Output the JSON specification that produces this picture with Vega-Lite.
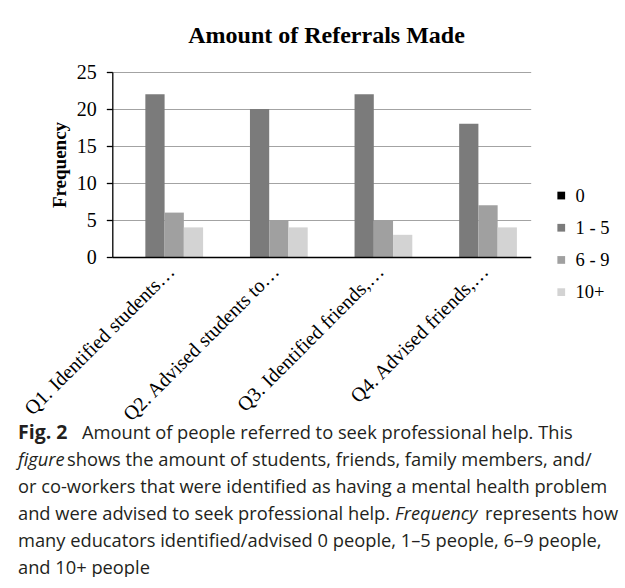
{
  "$schema": "https://vega.github.io/schema/vega-lite/v6.json",
  "background": "white",
  "padding": {"left": 18, "top": 23, "right": 0, "bottom": 0},
  "autosize": {"type": "pad"},
  "bounds": "flush",
  "center": true,
  "spacing": 181.5,
  "config": {"view": {"stroke": null}, "font": "Liberation Serif"},
  "datasets": {
    "bars": [
      {"question": "Q1. Identified students…", "referrals": "0", "frequency": 0},
      {"question": "Q1. Identified students…", "referrals": "1 - 5", "frequency": 22},
      {"question": "Q1. Identified students…", "referrals": "6 - 9", "frequency": 6},
      {"question": "Q1. Identified students…", "referrals": "10+", "frequency": 4},
      {"question": "Q2. Advised students to…", "referrals": "0", "frequency": 0},
      {"question": "Q2. Advised students to…", "referrals": "1 - 5", "frequency": 20},
      {"question": "Q2. Advised students to…", "referrals": "6 - 9", "frequency": 5},
      {"question": "Q2. Advised students to…", "referrals": "10+", "frequency": 4},
      {"question": "Q3. Identified friends,…", "referrals": "0", "frequency": 0},
      {"question": "Q3. Identified friends,…", "referrals": "1 - 5", "frequency": 22},
      {"question": "Q3. Identified friends,…", "referrals": "6 - 9", "frequency": 5},
      {"question": "Q3. Identified friends,…", "referrals": "10+", "frequency": 3},
      {"question": "Q4. Advised friends,…", "referrals": "0", "frequency": 0},
      {"question": "Q4. Advised friends,…", "referrals": "1 - 5", "frequency": 18},
      {"question": "Q4. Advised friends,…", "referrals": "6 - 9", "frequency": 7},
      {"question": "Q4. Advised friends,…", "referrals": "10+", "frequency": 4}
    ],
    "caption": [
      {"line": 1, "part": "label", "text": "Fig. 2"},
      {"line": 1, "part": "afterLabel", "text": "Amount of people referred to seek professional help. This"},
      {"line": 2, "part": "emphLead", "text": "figure"},
      {"line": 2, "part": "afterEmphLead", "text": "shows the amount of students, friends, family members, and/"},
      {"line": 3, "part": "text", "text": "or co-workers that were identified as having a mental health problem"},
      {"line": 4, "part": "text", "text": "and were advised to seek professional help."},
      {"line": 4, "part": "emph", "text": "Frequency"},
      {"line": 4, "part": "afterEmph", "text": "represents how"},
      {"line": 5, "part": "text", "text": "many educators identified/advised 0 people, 1–5 people, 6–9 people,"},
      {"line": 6, "part": "text", "text": "and 10+ people"}
    ]
  },
  "vconcat": [
    {
      "width": 418.4,
      "height": 185,
      "title": {
        "text": "Amount of Referrals Made",
        "font": "Liberation Serif",
        "fontSize": 24,
        "fontWeight": "bold",
        "color": "black",
        "anchor": "middle",
        "frame": "group",
        "baseline": "alphabetic",
        "offset": -4.6,
        "dx": 5
      },
      "data": {"name": "bars"},
      "mark": {"type": "bar"},
      "encoding": {
        "x": {
          "field": "question",
          "type": "nominal",
          "sort": null,
          "scale": {"paddingInner": 0.264, "paddingOuter": 0.132},
          "axis": {
            "title": null,
            "labelAngle": -45,
            "labelFont": "Liberation Serif",
            "labelFontSize": 20,
            "labelColor": "black",
            "labelPadding": 4,
            "labelLimit": 0,
            "ticks": false,
            "domainColor": "black",
            "domainWidth": 1.3,
            "grid": false,
            "zindex": 1
          }
        },
        "xOffset": {
          "field": "referrals",
          "type": "nominal",
          "sort": ["0", "1 - 5", "6 - 9", "10+"],
          "scale": {"paddingInner": 0, "paddingOuter": 0}
        },
        "y": {
          "field": "frequency",
          "type": "quantitative",
          "scale": {"domain": [0, 25]},
          "axis": {
            "values": [0, 5, 10, 15, 20, 25],
            "title": "Frequency",
            "titleFont": "Liberation Serif",
            "titleFontSize": 19,
            "titleFontWeight": "bold",
            "titleColor": "black",
            "titlePadding": 7,
            "labelFont": "Liberation Serif",
            "labelFontSize": 20,
            "labelColor": "black",
            "labelPadding": 10,
            "domainColor": "black",
            "domainWidth": 1.3,
            "tickColor": "black",
            "tickSize": 6,
            "tickWidth": 1.3,
            "grid": true,
            "gridColor": "#a3a3a3",
            "gridWidth": 1
          }
        },
        "color": {
          "field": "referrals",
          "type": "nominal",
          "scale": {
            "domain": ["0", "1 - 5", "6 - 9", "10+"],
            "range": ["#000000", "#7b7b7b", "#a0a0a0", "#d3d3d3"]
          },
          "legend": {
            "orient": "none",
            "legendX": 534,
            "legendY": 114.3,
            "title": null,
            "padding": 0,
            "symbolType": "square",
            "symbolSize": 60,
            "symbolStrokeWidth": 0,
            "labelFont": "Liberation Serif",
            "labelFontSize": 18.5,
            "labelColor": "black",
            "labelOffset": 5,
            "rowPadding": 13.2
          }
        }
      }
    },
    {
      "width": 607,
      "height": 135,
      "data": {"name": "caption"},
      "encoding": {
        "y": {"field": "line", "type": "ordinal", "scale": {"type": "point", "padding": 0}, "axis": null},
        "x": {"datum": 0, "type": "quantitative", "scale": {"domain": [0, 1]}, "axis": null},
        "text": {"field": "text"}
      },
      "layer": [
        {
          "transform": [{"filter": "datum.part === 'text'"}],
          "mark": {"type": "text", "align": "left", "baseline": "alphabetic", "font": "Open Sans", "fontSize": 18.3, "color": "#231f20"}
        },
        {
          "transform": [{"filter": "datum.part === 'label'"}],
          "mark": {"type": "text", "align": "left", "baseline": "alphabetic", "font": "Open Sans", "fontSize": 19.5, "fontWeight": "bold", "color": "#231f20"}
        },
        {
          "transform": [{"filter": "datum.part === 'afterLabel'"}],
          "mark": {"type": "text", "align": "left", "baseline": "alphabetic", "font": "Open Sans", "fontSize": 18.3, "color": "#231f20", "dx": 64}
        },
        {
          "transform": [{"filter": "datum.part === 'emphLead'"}],
          "mark": {"type": "text", "align": "left", "baseline": "alphabetic", "font": "Open Sans", "fontSize": 18.3, "fontStyle": "italic", "color": "#231f20"}
        },
        {
          "transform": [{"filter": "datum.part === 'afterEmphLead'"}],
          "mark": {"type": "text", "align": "left", "baseline": "alphabetic", "font": "Open Sans", "fontSize": 18.3, "color": "#231f20", "dx": 49}
        },
        {
          "transform": [{"filter": "datum.part === 'emph'"}],
          "mark": {"type": "text", "align": "left", "baseline": "alphabetic", "font": "Open Sans", "fontSize": 18.3, "fontStyle": "italic", "color": "#231f20", "dx": 377}
        },
        {
          "transform": [{"filter": "datum.part === 'afterEmph'"}],
          "mark": {"type": "text", "align": "left", "baseline": "alphabetic", "font": "Open Sans", "fontSize": 18.3, "color": "#231f20", "dx": 467}
        }
      ]
    }
  ]
}
